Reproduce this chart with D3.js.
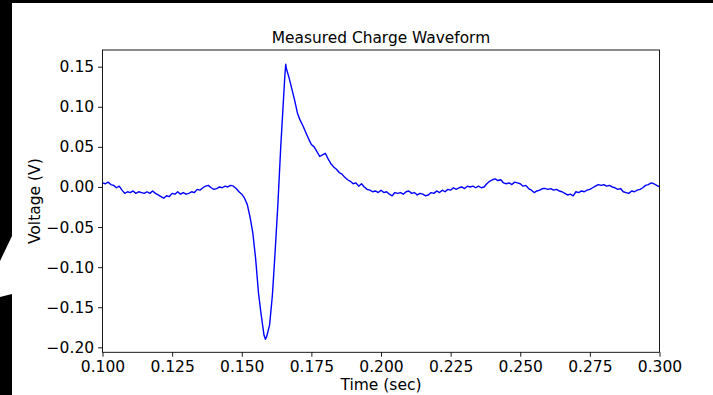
<!DOCTYPE html>
<html>
<head>
<meta charset="utf-8">
<script src="https://cdn.jsdelivr.net/npm/d3@7"></script>
<style>
  html, body { margin: 0; padding: 0; background: #fff; }
  svg { display: block; }
  text { font-family: "DejaVu Sans", sans-serif; fill: #000; }
</style>
</head>
<body>
<svg id="chart" width="713" height="395"></svg>
<script>
// ---- data ----
const title = "Measured Charge Waveform";
const xLabel = "Time (sec)";
const yLabel = "Voltage (V)";
const xTicks = [0.100, 0.125, 0.150, 0.175, 0.200, 0.225, 0.250, 0.275, 0.300];
const xTickLabels = ["0.100", "0.125", "0.150", "0.175", "0.200", "0.225", "0.250", "0.275", "0.300"];
const yTicks = [0.15, 0.10, 0.05, 0.00, -0.05, -0.10, -0.15, -0.20];
const yTickLabels = ["0.15", "0.10", "0.05", "0.00", "\u22120.05", "\u22120.10", "\u22120.15", "\u22120.20"];

const timeSec = [
  0.100, 0.101, 0.102, 0.103, 0.104, 0.105, 0.106, 0.107, 0.108, 0.109,
  0.110, 0.111, 0.112, 0.113, 0.114, 0.115, 0.116, 0.117, 0.118, 0.119,
  0.120, 0.121, 0.122, 0.123, 0.124, 0.125, 0.126, 0.127, 0.128, 0.129,
  0.130, 0.131, 0.132, 0.133, 0.134, 0.135, 0.136, 0.137, 0.138, 0.139,
  0.140, 0.141, 0.142, 0.143, 0.144, 0.145, 0.146, 0.147, 0.148, 0.149,
  0.150, 0.151, 0.152, 0.153, 0.154, 0.155, 0.156, 0.157, 0.158, 0.1585,
  0.159, 0.160, 0.161, 0.162, 0.163, 0.164, 0.165, 0.1655, 0.1658, 0.166,
  0.167, 0.168, 0.169, 0.170, 0.171, 0.172, 0.173, 0.174, 0.175, 0.176,
  0.177, 0.178, 0.179, 0.180, 0.181, 0.182, 0.183, 0.184, 0.185, 0.186,
  0.187, 0.188, 0.189, 0.190, 0.191, 0.192, 0.193, 0.194, 0.195, 0.196,
  0.197, 0.198, 0.199, 0.200, 0.201, 0.202, 0.203, 0.204, 0.205, 0.206,
  0.207, 0.208, 0.209, 0.210, 0.211, 0.212, 0.213, 0.214, 0.215, 0.216,
  0.217, 0.218, 0.219, 0.220, 0.221, 0.222, 0.223, 0.224, 0.225, 0.226,
  0.227, 0.228, 0.229, 0.230, 0.231, 0.232, 0.233, 0.234, 0.235, 0.236,
  0.237, 0.238, 0.239, 0.240, 0.241, 0.242, 0.243, 0.244, 0.245, 0.246,
  0.247, 0.248, 0.249, 0.250, 0.251, 0.252, 0.253, 0.254, 0.255, 0.256,
  0.257, 0.258, 0.259, 0.260, 0.261, 0.262, 0.263, 0.264, 0.265, 0.266,
  0.267, 0.268, 0.269, 0.270, 0.271, 0.272, 0.273, 0.274, 0.275, 0.276,
  0.277, 0.278, 0.279, 0.280, 0.281, 0.282, 0.283, 0.284, 0.285, 0.286,
  0.287, 0.288, 0.289, 0.290, 0.291, 0.292, 0.293, 0.294, 0.295, 0.296,
  0.297, 0.298, 0.299, 0.300
];
const voltage = [
  0.005, 0.004, 0.006, 0.003, 0.002, -0.001, 0.001, -0.004, -0.008, -0.006,
  -0.007, -0.005, -0.008, -0.006, -0.007, -0.008, -0.006, -0.008, -0.005, -0.008,
  -0.010, -0.012, -0.014, -0.011, -0.012, -0.008, -0.009, -0.006, -0.009, -0.007,
  -0.009, -0.008, -0.006, -0.007, -0.003, -0.004, -0.001, 0.001, 0.002, -0.001,
  -0.003, -0.002, 0.000, -0.001, 0.001, 0.000, 0.002, 0.001, -0.002, -0.006,
  -0.009, -0.014, -0.022, -0.038, -0.058, -0.090, -0.132, -0.160, -0.185, -0.190,
  -0.186, -0.172, -0.135, -0.080, -0.020, 0.050, 0.110, 0.140, 0.153, 0.148,
  0.136, 0.122, 0.108, 0.092, 0.083, 0.076, 0.068, 0.060, 0.053, 0.050,
  0.044, 0.038, 0.040, 0.042, 0.035, 0.029, 0.025, 0.022, 0.018, 0.016,
  0.012, 0.009, 0.007, 0.004, 0.005, 0.001, 0.004, 0.000, -0.003, -0.004,
  -0.006, -0.005, -0.007, -0.004, -0.007, -0.006, -0.009, -0.011, -0.007, -0.008,
  -0.007, -0.009, -0.006, -0.005, -0.008, -0.007, -0.010, -0.008, -0.009, -0.011,
  -0.010, -0.007, -0.008, -0.005, -0.007, -0.004, -0.006, -0.003, -0.004, -0.001,
  -0.003, -0.001, 0.000, -0.002, 0.001, 0.000, 0.001, -0.001, 0.001, -0.001,
  0.000, 0.004, 0.007, 0.009, 0.010, 0.008, 0.009, 0.005, 0.004, 0.005,
  0.003, 0.006, 0.005, 0.004, 0.001, 0.002, -0.002, -0.004, -0.007, -0.005,
  -0.004, -0.002, -0.002, -0.003, -0.002, -0.004, -0.003, -0.005, -0.006, -0.008,
  -0.010, -0.009, -0.011, -0.006, -0.007, -0.005, -0.006, -0.004, -0.003, -0.001,
  0.001, 0.003, 0.002, 0.003, 0.001, 0.002, 0.000, -0.001, -0.003, -0.002,
  -0.006, -0.007, -0.008, -0.005, -0.006, -0.004, -0.003, -0.001, 0.002, 0.003,
  0.005, 0.004, 0.002, 0.000
];

// ---- drawing ----
const svg = d3.select("#chart");
const W = 713, H = 395;

// background frame (black strips and wedge as in reference)
svg.append("rect").attr("x", 0).attr("y", 0).attr("width", W).attr("height", H).attr("fill", "#fff");
svg.append("rect").attr("x", 0).attr("y", 0).attr("width", W).attr("height", 3).attr("fill", "#000");
svg.append("rect").attr("x", 0).attr("y", 0).attr("width", 12).attr("height", H).attr("fill", "#000");
svg.append("polygon").attr("points", "0,261 12,236 12,294 0,297").attr("fill", "#fff");

const plot = { left: 102.5, right: 659.5, top: 50, bottom: 352.3 };

const x = d3.scaleLinear().domain([0.1, 0.3]).range([plot.left, plot.right]);
const y = d3.scaleLinear().domain([-0.2062, 0.1708]).range([plot.bottom, plot.top]);

const fs = 15.5;

// axes
const xAxis = d3.axisBottom(x)
  .tickValues(xTicks)
  .tickFormat((d, i) => xTickLabels[i])
  .tickSize(4.4).tickPadding(4);
const gx = svg.append("g").attr("transform", `translate(0,${plot.bottom})`).call(xAxis);
gx.attr("font-size", fs).attr("font-family", "DejaVu Sans");
gx.select(".domain").remove();
gx.selectAll(".tick line").attr("stroke", "#000").attr("stroke-width", 0.9);
gx.selectAll(".tick text").attr("fill", "#000");

const yAxis = d3.axisLeft(y)
  .tickValues(yTicks)
  .tickFormat((d, i) => yTickLabels[i])
  .tickSize(4.4).tickPadding(4);
const gy = svg.append("g").attr("transform", `translate(${plot.left},0)`).call(yAxis);
gy.attr("font-size", fs).attr("font-family", "DejaVu Sans");
gy.select(".domain").remove();
gy.selectAll(".tick line").attr("stroke", "#000").attr("stroke-width", 0.9);
gy.selectAll(".tick text").attr("fill", "#000");

// line
const pts = timeSec.map((t, i) => [t, voltage[i]]);
svg.append("path")
  .datum(pts)
  .attr("fill", "none")
  .attr("stroke", "#0000ff")
  .attr("stroke-width", 1.4)
  .attr("stroke-linejoin", "round")
  .attr("d", d3.line().x(d => x(d[0])).y(d => y(d[1])));

// spines
svg.append("rect")
  .attr("x", plot.left).attr("y", plot.top)
  .attr("width", plot.right - plot.left).attr("height", plot.bottom - plot.top)
  .attr("fill", "none").attr("stroke", "#000").attr("stroke-width", 0.9);

// title & labels
svg.append("text").attr("x", (plot.left + plot.right) / 2).attr("y", 43)
  .attr("text-anchor", "middle").attr("font-size", 15.4).text(title);
svg.append("text").attr("x", (plot.left + plot.right) / 2).attr("y", 390)
  .attr("text-anchor", "middle").attr("font-size", fs).text(xLabel);
svg.append("text").attr("transform", `translate(40,${(plot.top + plot.bottom) / 2}) rotate(-90)`)
  .attr("text-anchor", "middle").attr("font-size", fs).text(yLabel);
</script>
</body>
</html>
